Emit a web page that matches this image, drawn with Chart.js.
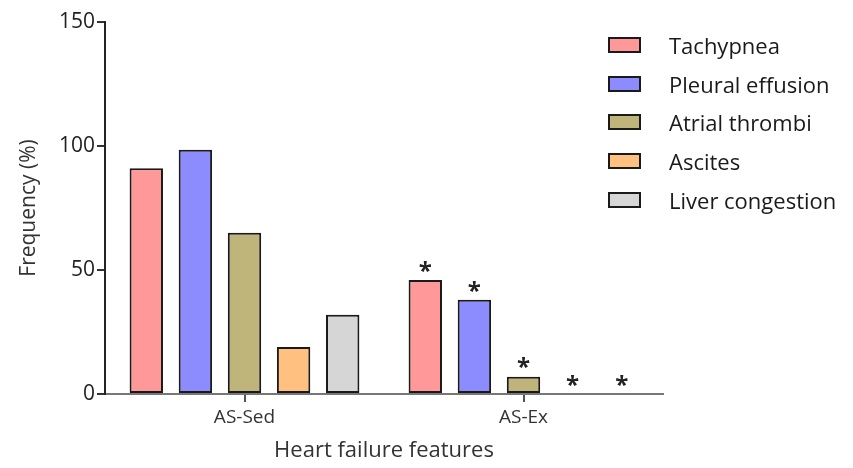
<!DOCTYPE html>
<html>
<head>
<meta charset="utf-8">
<script src="https://cdn.jsdelivr.net/npm/chart.js@4.4.1/dist/chart.umd.min.js"></script>
<style>
  html, body { margin: 0; padding: 0; background: #fff; }
  #wrap { position: relative; width: 853px; height: 468px; }
  #legend { position: absolute; left: 608px; top: 26px; font-family: 'Open Sans', sans-serif; font-size: 22px; color: #1a1a1a; }
  .lg-row { display: flex; align-items: center; height: 38.6px; }
  .lg-box { width: 29px; height: 12px; border: 2px solid #1a1a1a; margin-right: 28px; }
</style>
</head>
<body>
<div id="wrap">
  <canvas id="chart" width="853" height="468"></canvas>
  <div id="legend"></div>
</div>
<script>
// ── data ──
const groups = ['AS-Sed', 'AS-Ex'];
const features = ['Tachypnea', 'Pleural effusion', 'Atrial thrombi', 'Ascites', 'Liver congestion'];
const tachypnea = [91, 46];
const pleuralEffusion = [98.5, 38];
const atrialThrombi = [65, 7];
const ascites = [19, 0];
const liverCongestion = [32, 0];
const significant = [false, true]; // * vs AS-Sed
const yTicks = [0, 50, 100, 150];

const COLORS = ['#FF9999', '#8C8CFF', '#BFB47A', '#FFC080', '#D6D6D6'];
const FONT = 'Open Sans';

const series = [tachypnea, pleuralEffusion, atrialThrombi, ascites, liverCongestion];

// ── legend (html) ──
document.getElementById('legend').innerHTML = features.map((f, i) =>
  `<div class="lg-row"><span class="lg-box" style="background:${COLORS[i]}"></span>${f}</div>`
).join('');

// ── asterisks above significant bars ──
const starPlugin = {
  id: 'stars',
  afterDatasetsDraw(chart) {
    const { ctx } = chart;
    ctx.save();
    ctx.fillStyle = '#222';
    ctx.font = `bold 24px ${FONT}`;
    ctx.textAlign = 'center';
    ctx.textBaseline = 'middle';
    chart.data.datasets.forEach((ds, di) => {
      const meta = chart.getDatasetMeta(di);
      meta.data.forEach((bar, i) => {
        if (!significant[i]) return;
        ctx.fillText('*', bar.x, bar.y - 8);
      });
    });
    ctx.restore();
  }
};

new Chart(document.getElementById('chart').getContext('2d'), {
  type: 'bar',
  data: {
    labels: groups,
    datasets: features.map((f, i) => ({
      label: f,
      data: series[i],
      backgroundColor: COLORS[i],
      borderColor: '#1a1a1a',
      borderWidth: c => (c.raw === 0 ? 0 : 2),
      borderSkipped: false,
      categoryPercentage: 0.88,
      barPercentage: 0.68
    }))
  },
  options: {
    responsive: false,
    animation: false,
    layout: { padding: { top: 22, right: 190, left: 0, bottom: 0 } },
    plugins: {
      legend: { display: false },
      tooltip: { enabled: false }
    },
    scales: {
      x: {
        afterFit: s => { s.height = 74; },
        grid: { display: true, offset: false, drawOnChartArea: false, drawTicks: true, tickLength: 8, color: '#555', lineWidth: 2 },
        border: { display: true, color: '#777', width: 2 },
        ticks: { color: '#333', font: { family: FONT, size: 19 }, padding: 4 },
        title: { display: true, text: 'Heart failure features', color: '#333', font: { family: FONT, size: 22 }, padding: { top: 2 } }
      },
      y: {
        min: 0,
        max: 150,
        afterFit: s => { s.width = 105; },
        afterBuildTicks: s => { s.ticks = yTicks.map(v => ({ value: v })); },
        grid: { display: true, drawOnChartArea: false, drawTicks: true, tickLength: 8, color: '#333', lineWidth: 2 },
        border: { display: true, color: '#222', width: 2 },
        ticks: { color: '#222', font: { family: FONT, size: 21 }, padding: 2 },
        title: { display: true, text: 'Frequency (%)', color: '#333', font: { family: FONT, size: 21 }, padding: { top: 16, bottom: 4 } }
      }
    }
  },
  plugins: [starPlugin]
});
</script>
</body>
</html>
